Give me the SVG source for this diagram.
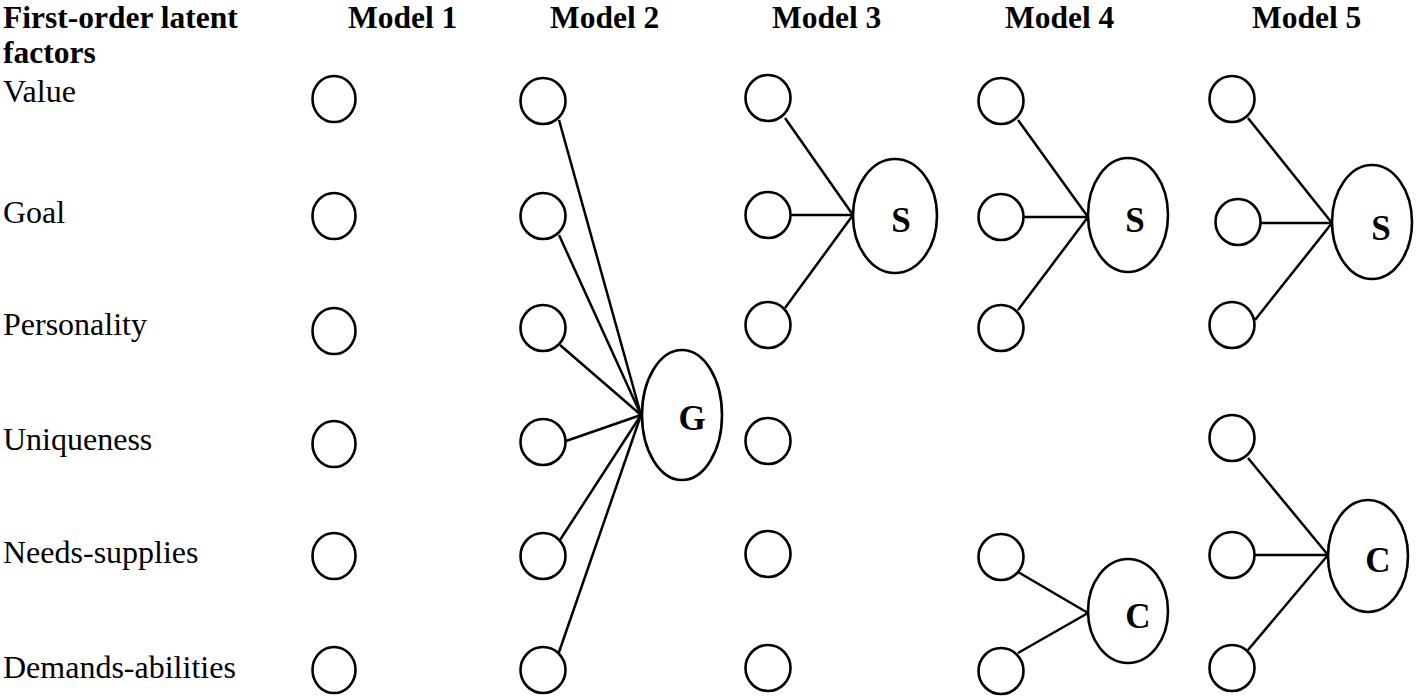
<svg xmlns="http://www.w3.org/2000/svg" width="1418" height="699" viewBox="0 0 1418 699">
<style>
text{font-family:"Liberation Serif","Times New Roman",serif;fill:#000}
.h{font-size:31.5px;font-weight:bold}
.lb{font-size:32px}
.lt{font-size:35px;font-weight:bold;text-anchor:middle}
.n{fill:#fff;stroke:#000;stroke-width:2.6}
.e line{stroke:#000;stroke-width:2.5}
</style>
<rect width="1418" height="699" fill="#fff"/>
<g id="headers">
<text class="h" x="3" y="28">First-order latent</text>
<text class="h" x="3" y="63">factors</text>
<text class="h" x="348" y="28">Model 1</text>
<text class="h" x="550" y="28">Model 2</text>
<text class="h" x="772" y="28">Model 3</text>
<text class="h" x="1005" y="28">Model 4</text>
<text class="h" x="1252" y="28">Model 5</text>
</g>
<g id="labels">
<text class="lb" x="3" y="102">Value</text>
<text class="lb" x="3" y="223">Goal</text>
<text class="lb" x="3" y="335">Personality</text>
<text class="lb" x="3" y="450">Uniqueness</text>
<text class="lb" x="3" y="563">Needs-supplies</text>
<text class="lb" x="3" y="678">Demands-abilities</text>
</g>
<g id="connectors" class="e">
<line x1="559" y1="120" x2="641" y2="415"/>
<line x1="559" y1="235" x2="641" y2="415"/>
<line x1="560" y1="345" x2="641" y2="415"/>
<line x1="566" y1="441" x2="641" y2="415"/>
<line x1="560" y1="540" x2="641" y2="415"/>
<line x1="558" y1="655" x2="641" y2="415"/>
<line x1="785" y1="118" x2="853" y2="215"/>
<line x1="791" y1="215" x2="853" y2="215"/>
<line x1="785" y1="308" x2="853" y2="215"/>
<line x1="1018" y1="120" x2="1088" y2="217"/>
<line x1="1024" y1="217" x2="1088" y2="217"/>
<line x1="1018" y1="310" x2="1088" y2="217"/>
<line x1="1248" y1="118" x2="1332" y2="223"/>
<line x1="1261" y1="223" x2="1332" y2="223"/>
<line x1="1255" y1="320" x2="1332" y2="223"/>
<line x1="1018" y1="572" x2="1088" y2="613"/>
<line x1="1018" y1="653" x2="1088" y2="613"/>
<line x1="1248" y1="458" x2="1328" y2="555"/>
<line x1="1255" y1="555" x2="1328" y2="555"/>
<line x1="1248" y1="650" x2="1328" y2="555"/>
</g>
<g id="model1">
<ellipse class="n" cx="334" cy="99" rx="21.5" ry="23"/>
<ellipse class="n" cx="334" cy="216" rx="21.5" ry="23"/>
<ellipse class="n" cx="334" cy="331" rx="21.5" ry="23"/>
<ellipse class="n" cx="334" cy="444" rx="21.5" ry="23"/>
<ellipse class="n" cx="334" cy="556" rx="21.5" ry="23"/>
<ellipse class="n" cx="334" cy="670" rx="21.5" ry="23"/>
</g>
<g id="model2">
<ellipse class="n" cx="543" cy="101" rx="22.5" ry="23"/>
<ellipse class="n" cx="543" cy="216" rx="22.5" ry="23"/>
<ellipse class="n" cx="543" cy="328" rx="22.5" ry="23"/>
<ellipse class="n" cx="543" cy="442" rx="22.5" ry="23"/>
<ellipse class="n" cx="543" cy="556" rx="22.5" ry="23"/>
<ellipse class="n" cx="543" cy="670" rx="22.5" ry="23"/>
</g>
<g id="node-G">
<ellipse class="n" cx="682" cy="415" rx="40" ry="65"/>
<text class="lt" x="692" y="430">G</text>
</g>
<g id="model3">
<ellipse class="n" cx="768" cy="98" rx="22.5" ry="23"/>
<ellipse class="n" cx="768" cy="215" rx="22.5" ry="23"/>
<ellipse class="n" cx="768" cy="325" rx="22.5" ry="23"/>
<ellipse class="n" cx="768" cy="441" rx="22.5" ry="23"/>
<ellipse class="n" cx="768" cy="554" rx="22.5" ry="23"/>
<ellipse class="n" cx="768" cy="668" rx="22.5" ry="23"/>
</g>
<g id="node-S3">
<ellipse class="n" cx="895" cy="216" rx="42" ry="57"/>
<text class="lt" x="901" y="232">S</text>
</g>
<g id="model4">
<ellipse class="n" cx="1001" cy="101" rx="22.5" ry="23"/>
<ellipse class="n" cx="1001" cy="217" rx="22.5" ry="23"/>
<ellipse class="n" cx="1001" cy="328" rx="22.5" ry="23"/>
<ellipse class="n" cx="1001" cy="557" rx="22.5" ry="23"/>
<ellipse class="n" cx="1001" cy="671" rx="22.5" ry="23"/>
</g>
<g id="node-S4">
<ellipse class="n" cx="1128" cy="215" rx="40" ry="57"/>
<text class="lt" x="1135" y="232">S</text>
</g>
<g id="node-C4">
<ellipse class="n" cx="1128" cy="611" rx="40" ry="52"/>
<text class="lt" x="1138" y="628">C</text>
</g>
<g id="model5">
<ellipse class="n" cx="1232" cy="99" rx="22.5" ry="23"/>
<ellipse class="n" cx="1238" cy="222" rx="22.5" ry="23"/>
<ellipse class="n" cx="1232" cy="325" rx="22.5" ry="23"/>
<ellipse class="n" cx="1232" cy="438" rx="22.5" ry="23"/>
<ellipse class="n" cx="1232" cy="555" rx="22.5" ry="23"/>
<ellipse class="n" cx="1232" cy="668" rx="22.5" ry="23"/>
</g>
<g id="node-S5">
<ellipse class="n" cx="1372" cy="222" rx="40" ry="57"/>
<text class="lt" x="1381" y="240">S</text>
</g>
<g id="node-C5">
<ellipse class="n" cx="1368" cy="556" rx="40" ry="56"/>
<text class="lt" x="1378" y="572">C</text>
</g>
</svg>
